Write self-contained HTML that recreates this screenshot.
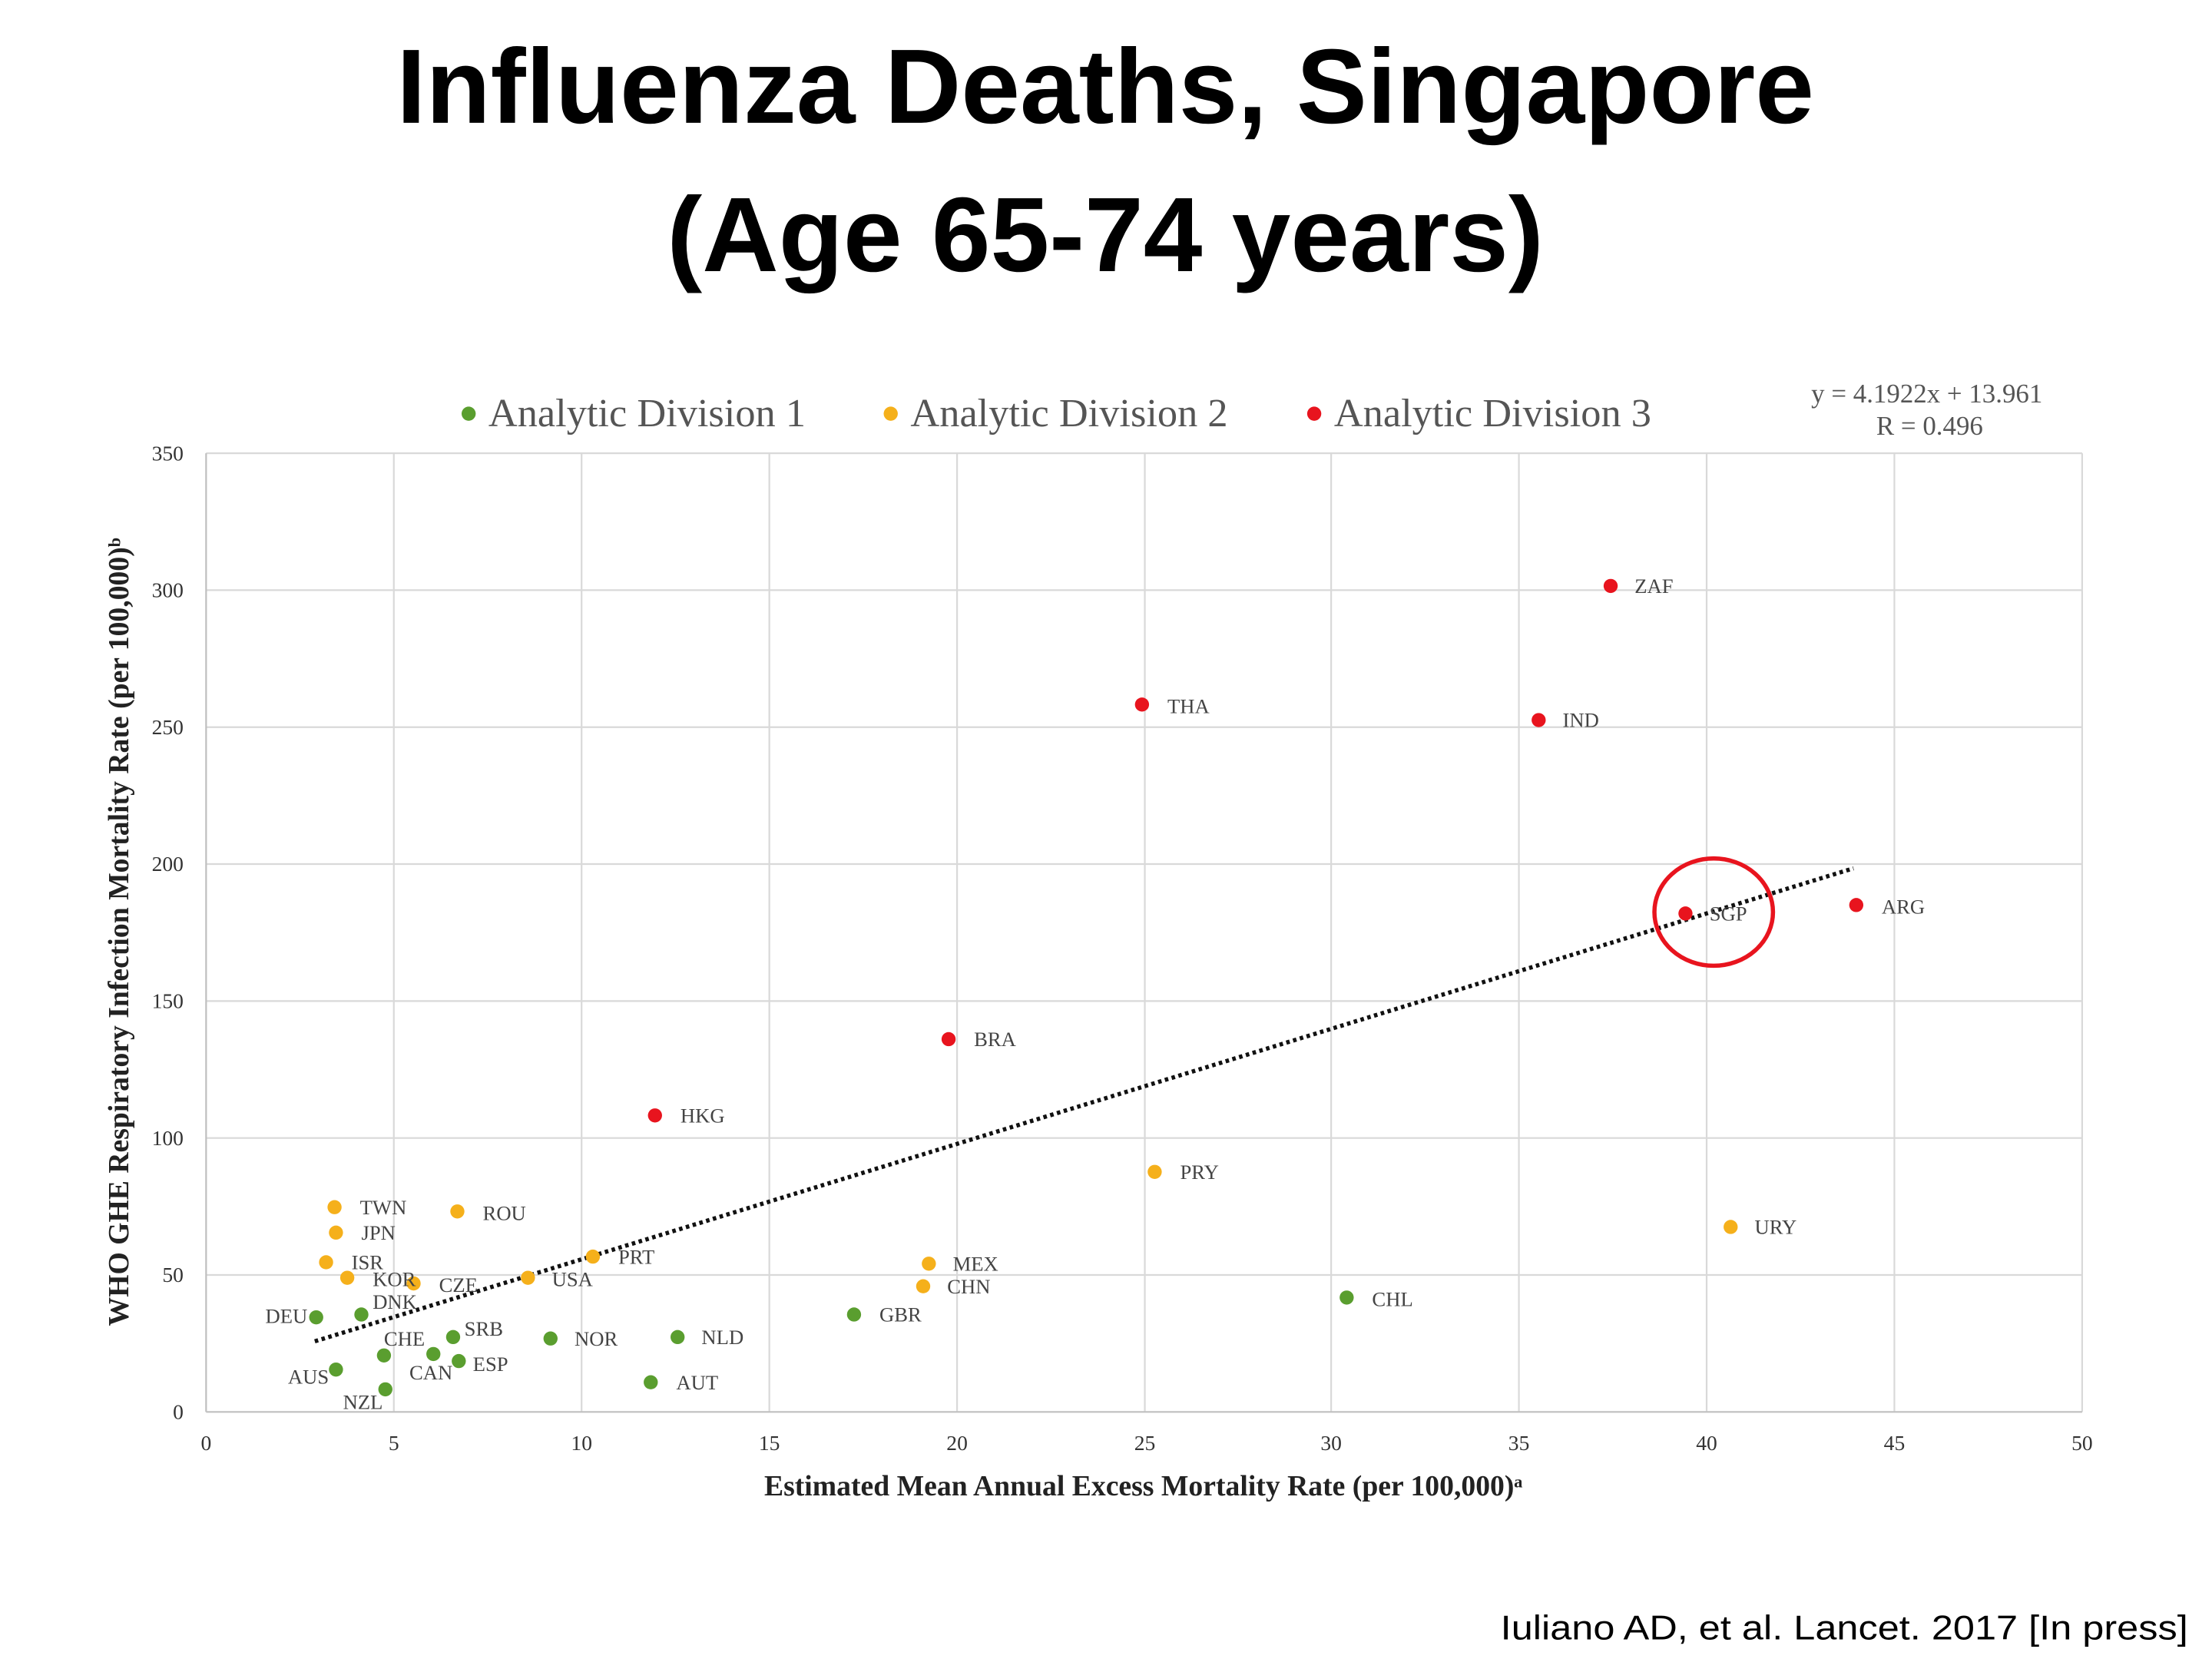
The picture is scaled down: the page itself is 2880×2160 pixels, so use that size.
<!DOCTYPE html>
<html><head><meta charset="utf-8"><style>
html,body{margin:0;padding:0;background:#fff;}
svg{display:block;}
.ser{font-family:"Liberation Serif",serif;}
.lab{font-family:"Liberation Serif",serif;font-size:14.5px;fill:#444;}
</style></head><body>
<svg width="2880" height="2160" viewBox="0 0 1567 1175" preserveAspectRatio="none" xmlns="http://www.w3.org/2000/svg">
<rect width="1567" height="1175" fill="#fff"/>
<g font-family="'Liberation Sans',sans-serif" font-weight="bold" font-size="75" text-anchor="middle" fill="#000">
<text x="783" y="87">Influenza Deaths, Singapore</text>
<text x="783" y="192">(Age 65-74 years)</text>
</g>
<g stroke="#d9d9d9" stroke-width="1.2">
<line x1="146" y1="321" x2="1475" y2="321"/>
<line x1="146" y1="418" x2="1475" y2="418"/>
<line x1="146" y1="515" x2="1475" y2="515"/>
<line x1="146" y1="612" x2="1475" y2="612"/>
<line x1="146" y1="709" x2="1475" y2="709"/>
<line x1="146" y1="806" x2="1475" y2="806"/>
<line x1="146" y1="903" x2="1475" y2="903"/>
<line x1="279" y1="321" x2="279" y2="1000"/>
<line x1="412" y1="321" x2="412" y2="1000"/>
<line x1="545" y1="321" x2="545" y2="1000"/>
<line x1="678" y1="321" x2="678" y2="1000"/>
<line x1="811" y1="321" x2="811" y2="1000"/>
<line x1="943" y1="321" x2="943" y2="1000"/>
<line x1="1076" y1="321" x2="1076" y2="1000"/>
<line x1="1209" y1="321" x2="1209" y2="1000"/>
<line x1="1342" y1="321" x2="1342" y2="1000"/>
<line x1="1475" y1="321" x2="1475" y2="1000"/>
</g>
<g stroke="#bfbfbf" stroke-width="1.2">
<line x1="146" y1="321" x2="146" y2="1000"/>
<line x1="146" y1="1000" x2="1475" y2="1000"/>
</g>
<g class="ser" font-size="15" fill="#333" text-anchor="end">
<text x="130" y="326">350</text><text x="130" y="423">300</text><text x="130" y="520">250</text>
<text x="130" y="617">200</text><text x="130" y="714">150</text><text x="130" y="811">100</text>
<text x="130" y="908">50</text><text x="130" y="1005">0</text>
</g>
<g class="ser" font-size="15" fill="#333" text-anchor="middle">
<text x="146" y="1027">0</text><text x="279" y="1027">5</text><text x="412" y="1027">10</text>
<text x="545" y="1027">15</text><text x="678" y="1027">20</text><text x="811" y="1027">25</text>
<text x="943" y="1027">30</text><text x="1076" y="1027">35</text><text x="1209" y="1027">40</text>
<text x="1342" y="1027">45</text><text x="1475" y="1027">50</text>
</g>
<text class="ser" x="810" y="1059" font-size="20.5" font-weight="bold" fill="#222" text-anchor="middle">Estimated Mean Annual Excess Mortality Rate (per 100,000)ᵃ</text>
<text class="ser" transform="translate(91,660) rotate(-90)" font-size="20.5" font-weight="bold" fill="#222" text-anchor="middle">WHO GHE Respiratory Infection Mortality Rate (per 100,000)ᵇ</text>
<circle cx="332" cy="293" r="5" fill="#5a9e2f"/>
<circle cx="631" cy="293" r="5" fill="#f5b01b"/>
<circle cx="931" cy="293" r="5" fill="#e8141e"/>
<g class="ser" font-size="28.5" fill="#555">
<text x="346" y="302">Analytic Division 1</text>
<text x="645" y="302">Analytic Division 2</text>
<text x="945" y="302">Analytic Division 3</text>
</g>
<g class="ser" font-size="19" fill="#555" text-anchor="middle">
<text x="1365" y="285">y = 4.1922x + 13.961</text>
<text x="1367" y="308">R  = 0.496</text>
</g>
<line x1="223" y1="950" x2="1313" y2="615" stroke="#111" stroke-width="3" stroke-dasharray="2.5,2.5"/>
<g fill="#e8141e">
<circle cx="1141" cy="415" r="5"/><circle cx="809" cy="499" r="5"/><circle cx="1090" cy="510" r="5"/>
<circle cx="1194" cy="647" r="5"/><circle cx="1315" cy="641" r="5"/><circle cx="672" cy="736" r="5"/>
<circle cx="464" cy="790" r="5"/>
</g>
<g fill="#f5b01b">
<circle cx="237" cy="855" r="5"/><circle cx="238" cy="873" r="5"/><circle cx="231" cy="894" r="5"/>
<circle cx="246" cy="905" r="5"/><circle cx="293" cy="909" r="5"/><circle cx="324" cy="858" r="5"/>
<circle cx="420" cy="890" r="5"/><circle cx="374" cy="905" r="5"/><circle cx="658" cy="895" r="5"/>
<circle cx="654" cy="911" r="5"/><circle cx="818" cy="830" r="5"/><circle cx="1226" cy="869" r="5"/>
</g>
<g fill="#5a9e2f">
<circle cx="224" cy="933" r="5"/><circle cx="256" cy="931" r="5"/><circle cx="272" cy="960" r="5"/>
<circle cx="238" cy="970" r="5"/><circle cx="273" cy="984" r="5"/><circle cx="307" cy="959" r="5"/>
<circle cx="321" cy="947" r="5"/><circle cx="325" cy="964" r="5"/><circle cx="390" cy="948" r="5"/>
<circle cx="480" cy="947" r="5"/><circle cx="461" cy="979" r="5"/><circle cx="605" cy="931" r="5"/>
<circle cx="954" cy="919" r="5"/>
</g>
<g class="lab">
<text x="1158" y="420">ZAF</text><text x="827" y="505">THA</text><text x="1107" y="515">IND</text>
<text x="1211" y="652">SGP</text><text x="1333" y="647">ARG</text><text x="690" y="741">BRA</text>
<text x="482" y="795">HKG</text><text x="255" y="860">TWN</text><text x="256" y="878">JPN</text>
<text x="249" y="899">ISR</text><text x="264" y="911">KOR</text><text x="311" y="915">CZE</text>
<text x="342" y="864">ROU</text><text x="438" y="895">PRT</text><text x="391" y="911">USA</text>
<text x="675" y="900">MEX</text><text x="671" y="916">CHN</text><text x="836" y="835">PRY</text>
<text x="1243" y="874">URY</text><text x="188" y="937">DEU</text><text x="264" y="927">DNK</text>
<text x="272" y="953">CHE</text><text x="204" y="980">AUS</text><text x="243" y="998">NZL</text>
<text x="290" y="977">CAN</text><text x="329" y="946">SRB</text><text x="335" y="971">ESP</text>
<text x="407" y="953">NOR</text><text x="497" y="952">NLD</text><text x="479" y="984">AUT</text>
<text x="623" y="936">GBR</text><text x="972" y="925">CHL</text>
</g>
<ellipse cx="1214" cy="646" rx="42" ry="38" fill="none" stroke="#e8141e" stroke-width="3"/>
<text x="1550" y="1161" font-family="'Liberation Sans',sans-serif" font-size="24" fill="#000" text-anchor="end" textLength="487" lengthAdjust="spacingAndGlyphs">Iuliano AD, et al. Lancet. 2017 [In press]</text>
</svg>
</body></html>
